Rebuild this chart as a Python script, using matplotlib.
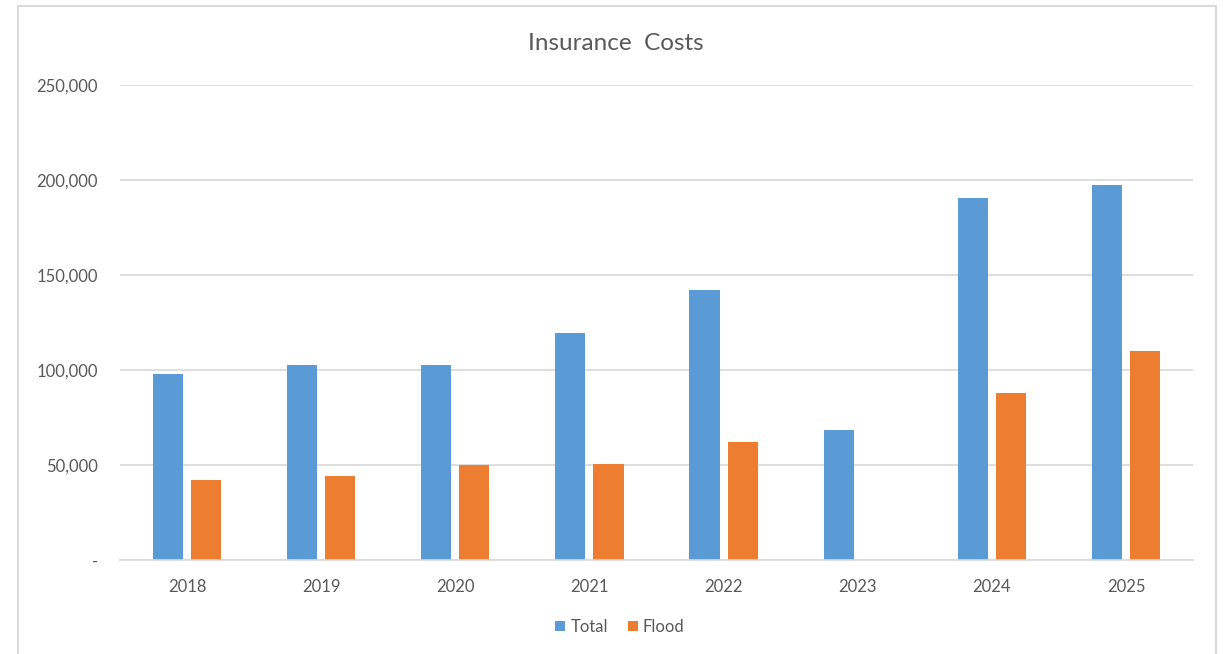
import matplotlib
matplotlib.use("Agg")
import matplotlib.pyplot as plt
import numpy as np
from matplotlib.patches import Rectangle
from matplotlib.ticker import FuncFormatter

years = ["2018", "2019", "2020", "2021", "2022", "2023", "2024", "2025"]
total = [97900, 102600, 102600, 119600, 142100, 68200, 190700, 197200]
flood = [41900, 44000, 49900, 50500, 61900, 0, 87700, 110000]

blue = "#5b9bd5"
orange = "#ed7d31"
text_col = "#595959"
grid_col = "#d9d9d9"

plt.rcParams['font.family'] = ['Lato', 'DejaVu Sans']

fig = plt.figure(figsize=(12.23, 6.54), dpi=100)
W, H = 1223, 654

# chart border (bottom edge is outside the picture)
fig.patches.append(Rectangle((18 / W, -0.02), (1216 - 18) / W, (H - 6) / H + 0.02,
                             transform=fig.transFigure, fill=False,
                             edgecolor=grid_col, linewidth=1.5))

ax = fig.add_axes([120 / W, (H - 560) / H, (1193 - 120) / W, (560 - 85) / H])

x = np.arange(len(years))
w = 0.224
off = 0.142
ax.bar(x - off, total, w, color=blue, label="Total")
ax.bar(x + off, flood, w, color=orange, label="Flood")

ax.set_xlim(-0.5, len(years) - 0.5)
ax.set_ylim(0, 250000)
ax.set_yticks(np.arange(0, 250001, 50000))
ax.yaxis.set_major_formatter(FuncFormatter(lambda v, p: "-" if v == 0 else f"{int(v):,}"))
ax.set_xticks(x)
ax.set_xticklabels(years)

ax.grid(axis="y", color=grid_col, linewidth=1.2)
ax.set_axisbelow(True)
for s in ["top", "left", "right"]:
    ax.spines[s].set_visible(False)
ax.spines["bottom"].set_color(grid_col)
ax.spines["bottom"].set_linewidth(1.2)
ax.tick_params(axis="both", length=0, colors=text_col, labelsize=12)
ax.tick_params(axis="y", pad=16)
ax.tick_params(axis="x", pad=14)

fig.text(616 / W, 1 - 43 / H, "Insurance  Costs", ha="center", va="center",
         fontsize=17.5, color=text_col)

leg = fig.legend(loc="center", bbox_to_anchor=(620 / W, 1 - 627 / H), ncol=2,
                 frameon=False, fontsize=12, handlelength=0.6, handleheight=0.6,
                 handletextpad=0.3, columnspacing=1.2)
for t in leg.get_texts():
    t.set_color(text_col)

fig.savefig("out.png", dpi=100, facecolor="white")
